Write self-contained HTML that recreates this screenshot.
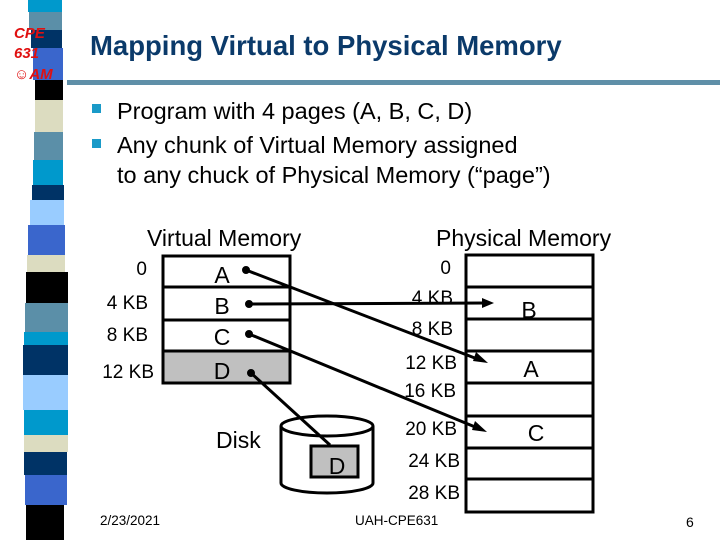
<!DOCTYPE html>
<html><head><meta charset="utf-8"><style>
body{margin:0;background:#fff}
svg{display:block}
text{font-family:"Liberation Sans",sans-serif}
</style></head><body>
<svg width="720" height="540" viewBox="0 0 720 540" xmlns="http://www.w3.org/2000/svg">
<g>
<rect x="28" y="0" width="34" height="12" fill="#0099cc"/>
<rect x="29" y="12" width="33" height="18" fill="#5b8fa8"/>
<rect x="31" y="30" width="31" height="18" fill="#003366"/>
<rect x="33" y="48" width="30" height="32" fill="#3a66cc"/>
<rect x="35" y="80" width="28" height="20" fill="#000"/>
<rect x="35" y="100" width="28" height="32" fill="#dcdcc0"/>
<rect x="34" y="132" width="29" height="28" fill="#5b8fa8"/>
<rect x="33" y="160" width="30" height="25" fill="#0099cc"/>
<rect x="32" y="185" width="32" height="15" fill="#003366"/>
<rect x="30" y="200" width="34" height="25" fill="#99ccff"/>
<rect x="28" y="225" width="37" height="30" fill="#3a66cc"/>
<rect x="27" y="255" width="38" height="17" fill="#dcdcc0"/>
<rect x="26" y="272" width="42" height="31" fill="#000"/>
<rect x="25" y="303" width="43" height="29" fill="#5b8fa8"/>
<rect x="24" y="332" width="44" height="13" fill="#0099cc"/>
<rect x="23" y="345" width="45" height="30" fill="#003366"/>
<rect x="23" y="375" width="45" height="35" fill="#99ccff"/>
<rect x="24" y="410" width="44" height="25" fill="#0099cc"/>
<rect x="24" y="435" width="44" height="17" fill="#dcdcc0"/>
<rect x="24" y="452" width="43" height="23" fill="#003366"/>
<rect x="25" y="475" width="42" height="30" fill="#3a66cc"/>
<rect x="26" y="505" width="38" height="35" fill="#000"/>
</g>
<text x="14" y="38" font-size="15" font-weight="bold" fill="#e01010" font-style="italic">CPE</text>
<text x="14" y="58" font-size="15" font-weight="bold" fill="#e01010" font-style="italic">631</text>
<text x="14" y="79" font-size="15" font-weight="bold" fill="#e01010" font-style="italic">☺AM</text>
<text x="90" y="55" font-size="27.5" font-weight="bold" fill="#0b3a6a">Mapping Virtual to Physical Memory</text>
<rect x="67" y="80" width="653" height="5" fill="#5f8fa8"/>
<rect x="92" y="104" width="9" height="9" fill="#1a9ac8"/>
<rect x="92" y="139" width="9" height="9" fill="#1a9ac8"/>
<g font-size="23.5" fill="#000">
<text x="117" y="119">Program with 4 pages (A, B, C, D)</text>
<text x="117" y="153">Any chunk of Virtual Memory assigned</text>
<text x="117" y="183">to any chuck of Physical Memory (“page”)</text>
</g>
<g font-size="23"><text x="147" y="246">Virtual Memory</text><text x="436" y="246">Physical Memory</text></g>
<g font-size="19" text-anchor="end">
<text x="147" y="275">0</text><text x="148" y="309">4 KB</text><text x="148" y="341">8 KB</text><text x="154" y="378">12 KB</text>
<text x="451" y="274">0</text><text x="453" y="304">4 KB</text><text x="453" y="335">8 KB</text><text x="457" y="369">12 KB</text><text x="456" y="397">16 KB</text><text x="457" y="435">20 KB</text><text x="460" y="467">24 KB</text><text x="460" y="499">28 KB</text>
</g>
<rect x="163" y="351" width="127" height="32" fill="#c0c0c0"/>
<g stroke="#000" stroke-width="3" fill="none">
<rect x="163" y="256" width="127" height="127"/>
<line x1="163" y1="287" x2="290" y2="287"/><line x1="163" y1="320" x2="290" y2="320"/><line x1="163" y1="351" x2="290" y2="351"/>
<rect x="466" y="255" width="127" height="257"/>
<line x1="466" y1="287" x2="593" y2="287"/><line x1="466" y1="319" x2="593" y2="319"/><line x1="466" y1="351" x2="593" y2="351"/><line x1="466" y1="383" x2="593" y2="383"/><line x1="466" y1="416" x2="593" y2="416"/><line x1="466" y1="448" x2="593" y2="448"/><line x1="466" y1="479" x2="593" y2="479"/>
</g>
<g font-size="23" text-anchor="middle">
<text x="222" y="283">A</text><text x="222" y="314">B</text><text x="222" y="345">C</text><text x="222" y="379">D</text>
<text x="529" y="318">B</text><text x="531" y="377">A</text><text x="536" y="441">C</text>
</g>
<text x="216" y="448" font-size="23">Disk</text>
<g stroke="#000" stroke-width="3">
<path d="M281 426 V483 A46 10 0 0 0 373 483 V426" fill="#fff"/>
<ellipse cx="327" cy="426" rx="46" ry="10" fill="#fff"/>
</g>
<rect x="311" y="446" width="47" height="31" fill="#c0c0c0" stroke="#000" stroke-width="3"/>
<text x="337" y="474" font-size="23" text-anchor="middle">D</text>
<g stroke="#000" stroke-width="3" fill="#000">
<line x1="246" y1="270" x2="480" y2="360"/>
<line x1="249" y1="304" x2="486" y2="303"/>
<line x1="249" y1="334" x2="480" y2="429"/>
<line x1="251" y1="373" x2="330" y2="445"/>
<circle cx="246" cy="270" r="2.5"/><circle cx="249" cy="304" r="2.5"/><circle cx="249" cy="334" r="2.5"/><circle cx="251" cy="373" r="2.5"/>
</g>
<g fill="#000">
<polygon points="494,303 482,298 482,308"/>
<polygon points="488,363 476,352 473,361"/>
<polygon points="487,432 475,421 472,430"/>
</g>
<text x="100" y="525" font-size="13.5">2/23/2021</text>
<text x="355" y="525" font-size="13.5">UAH-CPE631</text>
<text x="686" y="527" font-size="14">6</text>
</svg>
</body></html>
